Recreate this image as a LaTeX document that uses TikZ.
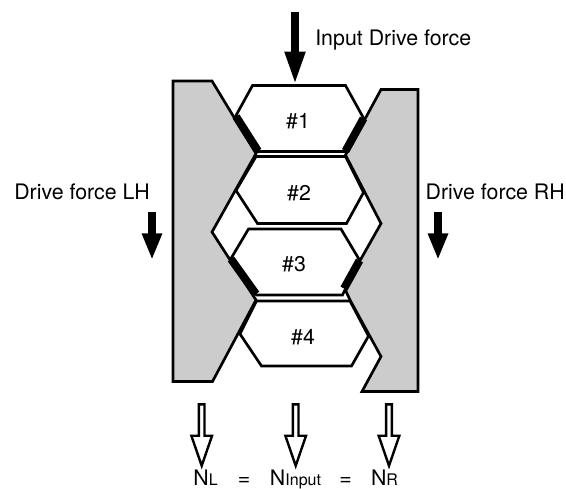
\documentclass[tikz,border=0pt]{standalone}
\usepackage{fontspec}
\setmainfont{TeX Gyre Heros}
\usepackage{tikz}
\usetikzlibrary{positioning,shapes.arrows,arrows.meta}
\tikzstyle{arrow} = [line width=6pt, -{Triangle[length=25pt,width=14pt]}]

\begin{document}
\begin{tikzpicture}[
		x=0.75pt,y=-0.75pt,
		wedge/.style={
				draw=black,
				fill=gray!40,
				line width=2pt,
				line join=miter,
			},
		plate/.style={
				draw=black,
				fill=white,
				line width=2pt,
				line join=miter,
			},
		lining/.style={
				draw=black,
				line width=6pt,
			},
		caption/.style={
				inner sep=0pt,
				font=\fontsize{16}{19}\selectfont,
			},
		outflow/.style={
				single arrow,
				draw=black,
				fill=white,
				line width=1.8pt,
				rotate=-90,
				inner sep=1.2pt,
				minimum width=15.5pt,
				minimum height=46pt,
				single arrow head extend=5.6pt,
				single arrow tip angle=38,
			},
	]
	\useasboundingbox (0,0) rectangle (566,488);

	% Left and right outer members
	\draw[wedge] (173,81) -- (212,81) -- (256,153.5) -- (212,232) -- (256,300)
	-- (212.5,381.5) -- (173,381.5) -- cycle;
	\draw[wedge] (418,89.5) -- (381,89.5) -- (345.5,155) -- (381,223.5) -- (344.5,288)
	-- (350,300) -- (381,356.5) -- (362,391.5) -- (418,391.5) -- cycle;

	% Plates
	\draw[plate] (252.5,85.5) -- (345.5,85.5) -- (363.5,118) -- (345,151.5) -- (258,151.5)
	-- (236,115.5) -- cycle;
	\draw[plate] (256,156.5) -- (345.5,156.5) -- (363.5,192.5) -- (346.5,223.5) -- (257.5,223.5)
	-- (236,190.5) -- cycle;
	\draw[plate] (248.5,229) -- (341,229) -- (359.5,260) -- (342.5,295) -- (256.5,295)
	-- (231,258.5) -- cycle;
	\draw[plate] (256.5,301) -- (350,301) -- (368.5,336) -- (351.5,366) -- (261.5,366)
	-- (240,334) -- cycle;

	% Engaged linings
	\draw[lining] (236,116.5) -- (258,151);
	\draw[lining] (363.5,118.5) -- (345.5,151);
	\draw[lining] (231,259) -- (256,294);
	\draw[lining] (359.5,260.5) -- (344,288.5);

	% Plate numbers
	\node[caption] (one) at (298,121.5) {\#1};
	\node[caption] (two) at (299,193) {\#2};
	\node[caption] (three) at (294,264) {\#3};
	\node[caption] (four) at (303,337) {\#4};

	% Drive forces
	\node[caption, anchor=west] (input) at (315,40) {Input Drive force};
	\node[caption, anchor=west] (left) at (14,192) {Drive force LH};
	\node[caption, anchor=east] (right) at (565,192) {Drive force RH};
	\coordinate (inputtop) at (295,12);
	\coordinate (inputend) at (295,85);
	\coordinate (lefttop) at (152,212);
	\coordinate (leftend) at (152,260);
	\coordinate (righttop) at (438,212);
	\coordinate (rightend) at (438,260);
	\draw[arrow] (inputtop) -- (inputend);
	\draw[arrow, -{Triangle[length=20pt,width=14pt]}] (lefttop) -- (leftend);
	\draw[arrow, -{Triangle[length=20pt,width=14pt]}] (righttop) -- (rightend);

	% Output speeds
	\node[outflow] (outl) at (201.7,431) {};
	\node[outflow] (outinput) at (295.7,431) {};
	\node[outflow] (outr) at (389,431) {};
	\node[caption, anchor=base] (nl) at (205.5,485) {N{\fontsize{12}{14}\selectfont L}};
	\node[caption, anchor=base] (eqa) at (244,485) {=};
	\node[caption, anchor=base] (ninput) at (295.5,485) {N{\fontsize{12}{14}\selectfont Input}};
	\node[caption, anchor=base] (eqb) at (345.5,485) {=};
	\node[caption, anchor=base] (nr) at (384.5,485) {N{\fontsize{12}{14}\selectfont R}};
\end{tikzpicture}
\end{document}
